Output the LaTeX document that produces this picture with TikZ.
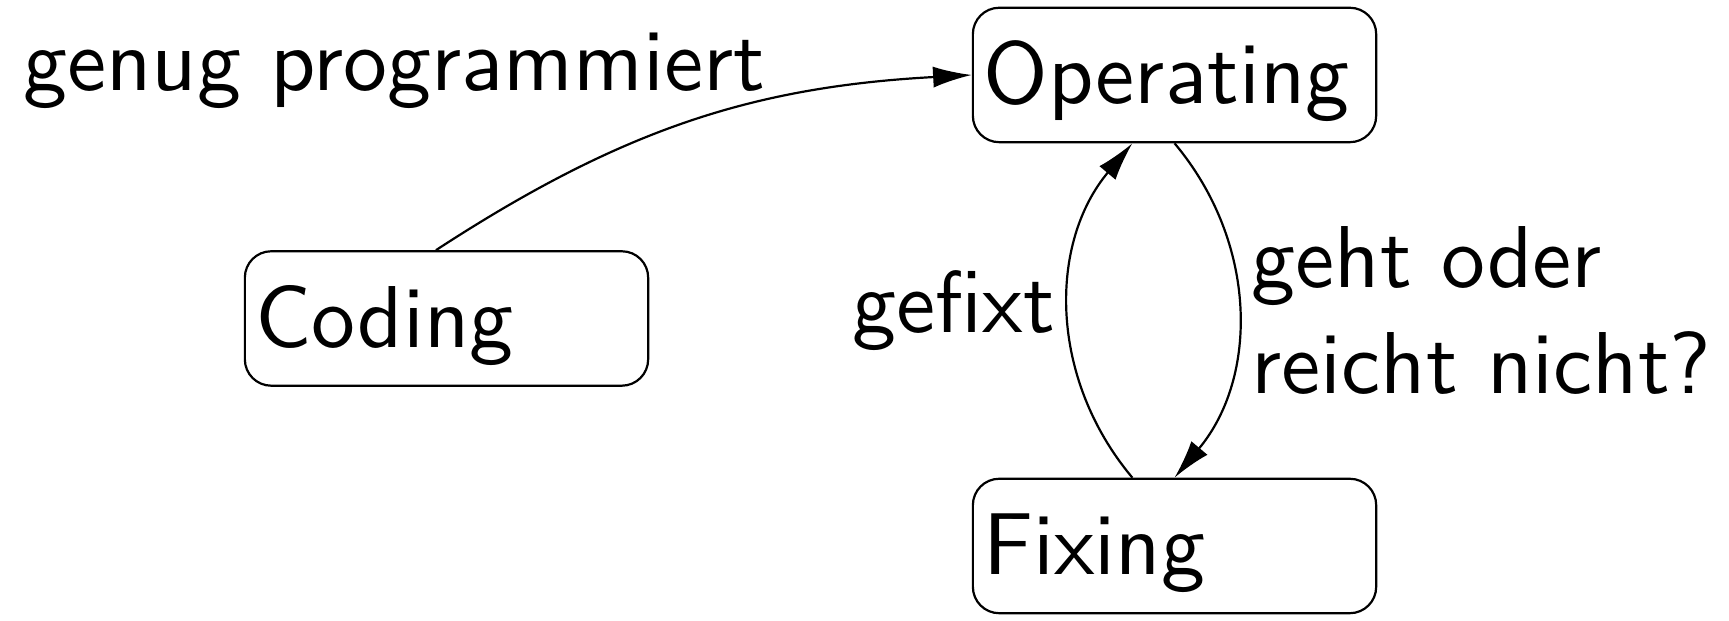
\documentclass[tikz,border=0pt]{standalone}
\usetikzlibrary{arrows.meta}
\renewcommand{\familydefault}{\sfdefault}
\begin{document}
\begin{tikzpicture}[
		node distance=1.884cm,
		link/.style={
			-{Latex[length=4.4pt,width=2.4pt]},
			line width=0.25pt,
		},
		state/.style={
			draw,
			line width=0.25pt,
			rounded corners=3pt,
			text width=43.5pt,
			text height=8.9pt,
			text depth=2.4pt,
			inner xsep=1.2pt,
			inner ysep=2pt,
			align=left,
		},
		lbl/.style={
			inner sep=1.5pt,
		},
	]
	\useasboundingbox (0,0) rectangle (6.916,2.484);

	\node [state] (op) at (4.698,2.184) {Operating};
	\node [below of=op, state] (fix) {Fixing};
	\node [state] (cod) at (1.786,1.21) {Coding};
	\node [lbl, inner sep=0pt, anchor=base west] (prog) at (0.086,2.12) {genug programmiert};

	\draw [link] ([xshift=-1.2pt]cod.north) to[bend left=15] (op.west);
	\draw [link] (op.south) to[bend left=40] node[lbl, right, align=left] {geht oder\\reicht nicht?} (fix.north);
	\draw [link] ([xshift=-4.8pt]fix.north) to[bend left=40] node[lbl, left] {gefixt} ([xshift=-4.8pt]op.south);
\end{tikzpicture}
\end{document}
